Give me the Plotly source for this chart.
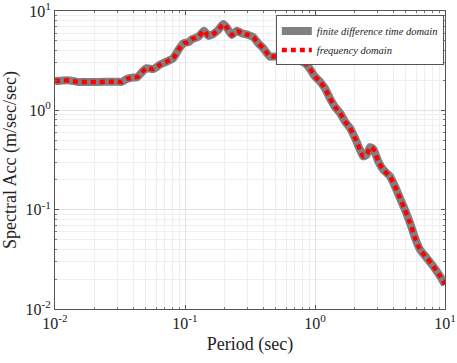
import plotly.graph_objects as go

period = [0.01, 0.0115, 0.013, 0.015, 0.018, 0.022, 0.026, 0.030, 0.0326, 0.036,
          0.040, 0.043, 0.047, 0.0507, 0.057, 0.064, 0.072, 0.081, 0.089, 0.097,
          0.106, 0.113, 0.127, 0.14, 0.151, 0.165, 0.18, 0.197, 0.209, 0.229,
          0.25, 0.273, 0.307, 0.335, 0.366, 0.40, 0.45, 0.507, 0.554, 0.606,
          0.681, 0.744, 0.838, 0.889, 1.0, 1.09, 1.19, 1.30, 1.42, 1.56,
          1.70, 1.86, 2.03, 2.22, 2.35, 2.5, 2.65, 2.81, 3.07, 3.35,
          3.78, 4.12, 4.5, 4.92, 5.38, 5.88, 6.42, 7.23, 8.13, 9.16, 10.0]

sa_fdtd = [1.97, 2.0, 2.0, 1.93, 1.93, 1.93, 1.94, 1.94, 1.93, 2.08,
           2.14, 2.16, 2.45, 2.66, 2.6, 2.87, 3.09, 3.35, 4.06, 4.73,
           4.85, 5.19, 5.52, 6.34, 5.61, 5.87, 6.44, 7.4, 6.86, 5.74,
           6.34, 5.97, 5.74, 5.45, 4.73, 4.22, 3.48, 3.48, 3.22, 3.48,
           3.48, 3.22, 2.98, 2.75, 2.19, 1.95, 1.67, 1.33, 1.09, 0.937,
           0.773, 0.662, 0.526, 0.401, 0.344, 0.357, 0.426, 0.408, 0.306, 0.252,
           0.216, 0.172, 0.131, 0.1, 0.0735, 0.052, 0.0397, 0.0327, 0.0269, 0.0214, 0.0176]

sa_freq = list(sa_fdtd)

series_names = ["finite difference time domain", "frequency domain"]
x_title = "Period (sec)"
y_title = "Spectral Acc (m/sec/sec)"

decades = [-2, -1, 0, 1]
tick_vals = [10.0 ** e for e in decades]
tick_text = ["10<sup>%d</sup>" % e for e in decades]
minor_vals = [m * 10.0 ** e for e in decades[:-1] for m in range(2, 10)]

FONT = "Times New Roman, Liberation Serif, serif"

fig = go.Figure()
fig.add_trace(go.Scatter(x=period, y=sa_fdtd, mode="lines", name=series_names[0],
                         line=dict(color="#808080", width=8, shape="spline", smoothing=0.5)))
fig.add_trace(go.Scatter(x=period, y=sa_freq, mode="lines", name=series_names[1],
                         line=dict(color="#ff0000", width=4.5, dash="5px,4px",
                                   shape="spline", smoothing=0.5)))

axis_common = dict(
    type="log", automargin=False, ticklabeloverflow="allow",
    tickmode="array", tickvals=tick_vals, ticktext=tick_text,
    showgrid=True, gridcolor="#e0e0e0", gridwidth=1,
    showline=True, linecolor="#555555", linewidth=1, mirror="ticks",
    ticks="inside", ticklen=4, tickcolor="#555555",
    zeroline=False,
    tickfont=dict(family=FONT, size=16, color="#222222"),
    minor=dict(tickmode="array", tickvals=minor_vals, showgrid=True,
               gridcolor="#efefef", ticks="inside", ticklen=2, tickcolor="#777777"),
)

fig.update_xaxes(range=[-2, 1],
                 title=dict(text=x_title, font=dict(family=FONT, size=18, color="#222222"), standoff=6),
                 **axis_common)
fig.update_yaxes(range=[-2, 1],
                 title=dict(text=y_title, font=dict(family=FONT, size=18, color="#222222"), standoff=4),
                 **axis_common)

fig.update_layout(
    width=457, height=363,
    margin=dict(l=55, r=12, t=11, b=54),
    paper_bgcolor="white", plot_bgcolor="white",
    showlegend=True,
    legend=dict(x=0.997, y=0.985, xanchor="right", yanchor="top",
                bgcolor="white", bordercolor="#555555", borderwidth=1,
                font=dict(family=FONT, size=10.5, style="italic", color="#222222"),
                itemwidth=30, tracegroupgap=0),
)

fig.write_html("out.html", config={"displayModeBar": False},
               post_script="document.body.style.margin='0';document.body.style.overflow='hidden';")
